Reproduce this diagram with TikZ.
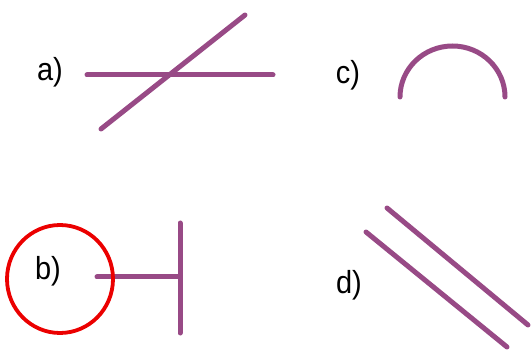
\documentclass[tikz,border=0pt]{standalone}
\usepackage{fontspec}
\setmainfont{Liberation Sans}
\usetikzlibrary{shapes.geometric}
\definecolor{lilac}{RGB}{152,74,134}
\definecolor{ringred}{RGB}{235,0,0}
\begin{document}
\begin{tikzpicture}[x=1pt,y=-1pt,
  seg/.style={draw=lilac,line width=5pt,line cap=round},
  lab/.style={font=\fontsize{29}{29}\selectfont,inner sep=0pt,yscale=1.1}]
\useasboundingbox (0,0) rectangle (532,352);
% labels
\node[lab] (la) at (50,72) {a)};
\node[lab] (lc) at (348,75) {c)};
\node[lab] (lb) at (48,271) {b)};
\node[lab] (ld) at (349,285) {d)};
% a)
\coordinate (a1) at (87,75);
\coordinate (a2) at (273,75);
\coordinate (a3) at (101,129);
\coordinate (a4) at (245,15);
\draw[seg] (a1) -- (a2);
\draw[seg] (a3) -- (a4);
% c)
\coordinate (c1) at (400,97);
\draw[seg] (c1) arc[start angle=180,end angle=360,x radius=52.5,y radius=51];
% b)
\coordinate (b1) at (97,277);
\coordinate (b2) at (180,277);
\coordinate (b3) at (180,223);
\coordinate (b4) at (180,333);
\draw[seg] (b1) -- (b2);
\draw[seg] (b3) -- (b4);
\node[draw=ringred,line width=3.8pt,ellipse,minimum width=106pt,minimum height=108pt,inner sep=0pt] (ring) at (60,279) {};
% d)
\coordinate (d1) at (387,208);
\coordinate (d2) at (528,325);
\coordinate (d3) at (366,232);
\coordinate (d4) at (507,347);
\draw[seg] (d1) -- (d2);
\draw[seg] (d3) -- (d4);
\end{tikzpicture}
\end{document}
